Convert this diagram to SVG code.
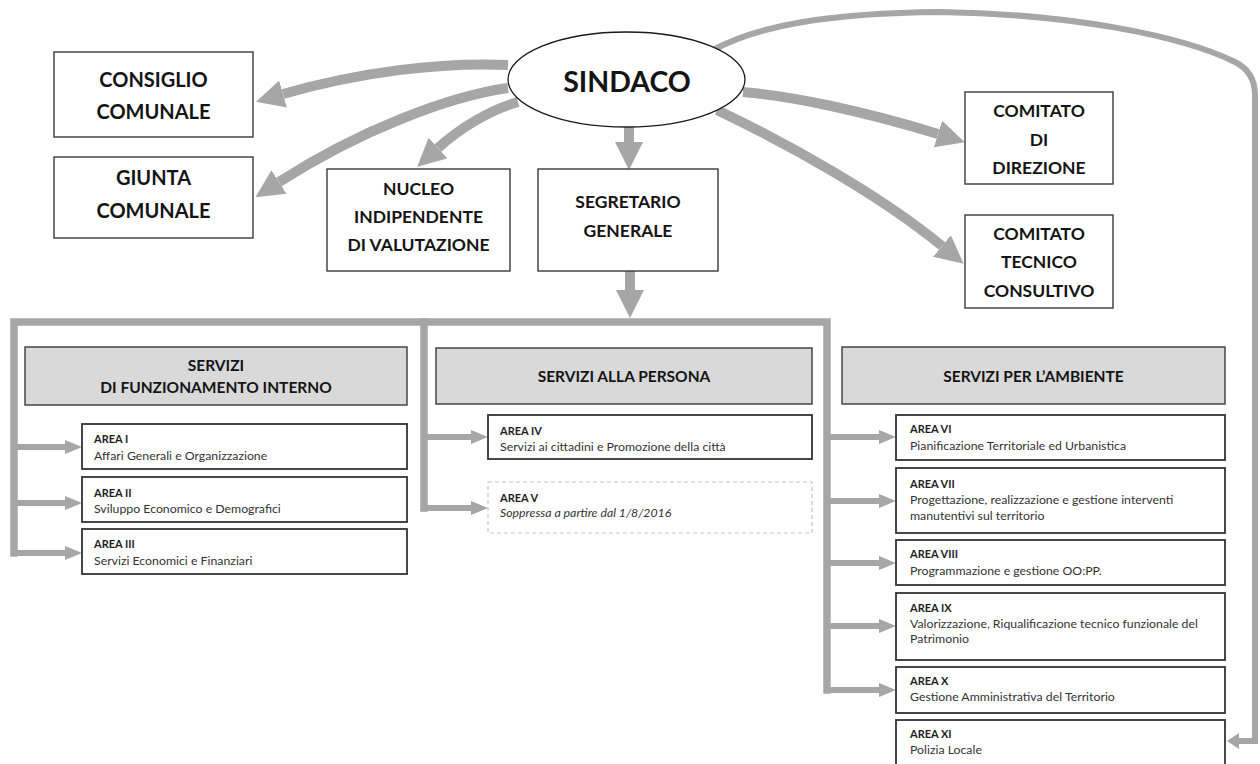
<svg xmlns="http://www.w3.org/2000/svg" width="1260" height="764" viewBox="0 0 1260 764">
<defs>
<style>
.box{fill:#fff;stroke:#3a3a3a;stroke-width:1.4}
.hdr{fill:#d9d9d9;stroke:#3a3a3a;stroke-width:1.4}
.area{fill:#fff;stroke:#333;stroke-width:1.8}
.gone{fill:#fff;stroke:#c4c4c4;stroke-width:1.2;stroke-dasharray:4 3}
.t{font-family:Lato,"Liberation Sans",sans-serif;font-weight:700;fill:#141414;text-anchor:middle}
.tb{font-size:20px}
.tm{font-size:17.5px}
.th{font-size:15.5px}
.at{font-family:Lato,"Liberation Sans",sans-serif;font-weight:700;font-size:11px;fill:#1e1e1e}
.ad{font-family:Lato,"Liberation Sans",sans-serif;font-size:12.3px;fill:#333}
.big{fill:none;stroke:#a6a6a6;stroke-width:10}
.thin{fill:none;stroke:#a6a6a6;stroke-width:6}
.bus{fill:none;stroke:#a6a6a6;stroke-width:7.5;stroke-linecap:square}
</style>
<marker id="ah" viewBox="0 -14 28 28" markerWidth="28" markerHeight="28" refX="0" refY="0" orient="auto" markerUnits="userSpaceOnUse"><path d="M0,-14 L28,0 L0,14 z" fill="#a6a6a6"/></marker>
<marker id="as" viewBox="0 -7 17 14" markerWidth="17" markerHeight="14" refX="0" refY="0" orient="auto" markerUnits="userSpaceOnUse"><path d="M0,-7 L17,0 L0,7 z" fill="#a6a6a6"/></marker>
<marker id="ar" viewBox="0 -8 12 16" markerWidth="12" markerHeight="16" refX="0" refY="0" orient="auto" markerUnits="userSpaceOnUse"><path d="M0,-8 L12,0 L0,8 z" fill="#a6a6a6"/></marker>
</defs>
<rect width="1260" height="764" fill="#fff"/>

<g id="connectors">
<path class="big" d="M508,65 C 440,62 360,72 283,94" marker-end="url(#ah)"/>
<path class="big" d="M508,88 C 450,96 360,130 279,182" marker-end="url(#ah)"/>
<path class="big" d="M518,102 C 490,110 460,128 438,148" marker-end="url(#ah)"/>
<path class="big" d="M629,127 L629,142" marker-end="url(#ah)"/>
<path class="big" d="M743,92 C 790,96 860,110 938,134" marker-end="url(#ah)"/>
<path class="big" d="M717,110 C 790,145 880,195 942,246" marker-end="url(#ah)"/>
<path class="big" d="M630,271 L630,290" marker-end="url(#ah)"/>
<path class="thin" d="M713,50 C 760,25 830,13 940,12 C 1070,14 1180,35 1235,62 Q1255,72 1255,95 L1255,741 L1239,741" marker-end="url(#ar)"/>
<path class="bus" d="M14,553 L14,322 L827,322 L827,690"/>
<path class="bus" d="M424,322 L424,508"/>
<path class="thin" d="M14,447 L65,447" marker-end="url(#as)"/>
<path class="thin" d="M14,503 L65,503" marker-end="url(#as)"/>
<path class="thin" d="M14,553 L65,553" marker-end="url(#as)"/>
<path class="thin" d="M424,437 L471,437" marker-end="url(#as)"/>
<path class="thin" d="M424,508 L471,508" marker-end="url(#as)"/>
<path class="thin" d="M827,437 L879,437" marker-end="url(#as)"/>
<path class="thin" d="M827,501 L879,501" marker-end="url(#as)"/>
<path class="thin" d="M827,563 L879,563" marker-end="url(#as)"/>
<path class="thin" d="M827,626 L879,626" marker-end="url(#as)"/>
<path class="thin" d="M827,690 L879,690" marker-end="url(#as)"/>
</g>

<g id="sindaco">
<ellipse cx="626.5" cy="79.5" rx="118.5" ry="47.5" fill="#fff" stroke="#1a1a1a" stroke-width="1.3"/>
<text class="t" x="627" y="92" font-size="28.5">SINDACO</text>
</g>
<g id="consiglio-comunale">
<rect class="box" x="54" y="52" width="199" height="85"/>
<text class="t tb" x="153.5" y="87">CONSIGLIO</text>
<text class="t tb" x="153.5" y="119">COMUNALE</text>
</g>
<g id="giunta-comunale">
<rect class="box" x="54" y="157" width="199" height="81"/>
<text class="t tb" x="153.5" y="185">GIUNTA</text>
<text class="t tb" x="153.5" y="218">COMUNALE</text>
</g>
<g id="nucleo">
<rect class="box" x="327" y="169" width="183" height="102"/>
<text class="t tm" x="418.5" y="195">NUCLEO</text>
<text class="t tm" x="418.5" y="223">INDIPENDENTE</text>
<text class="t tm" x="418.5" y="251">DI VALUTAZIONE</text>
</g>
<g id="segretario">
<rect class="box" x="538" y="169" width="180" height="102"/>
<text class="t tm" x="628" y="208">SEGRETARIO</text>
<text class="t tm" x="628" y="237">GENERALE</text>
</g>
<g id="comitato-direzione">
<rect class="box" x="965" y="92" width="148" height="92"/>
<text class="t tm" x="1039" y="117">COMITATO</text>
<text class="t tm" x="1039" y="146">DI</text>
<text class="t tm" x="1039" y="174">DIREZIONE</text>
</g>
<g id="comitato-tecnico">
<rect class="box" x="965" y="215" width="148" height="93"/>
<text class="t tm" x="1039" y="240">COMITATO</text>
<text class="t tm" x="1039" y="268">TECNICO</text>
<text class="t tm" x="1039" y="297">CONSULTIVO</text>
</g>

<g id="servizi-funzionamento">
<rect class="hdr" x="25" y="347" width="382" height="58"/>
<text class="t th" x="216" y="371">SERVIZI</text>
<text class="t th" x="216" y="393">DI FUNZIONAMENTO INTERNO</text>
</g>
<g id="servizi-persona">
<rect class="hdr" x="436" y="348" width="376" height="56"/>
<text class="t th" x="624" y="382">SERVIZI ALLA PERSONA</text>
</g>
<g id="servizi-ambiente">
<rect class="hdr" x="842" y="347" width="383" height="57"/>
<text class="t th" x="1033.5" y="382">SERVIZI PER L’AMBIENTE</text>
</g>

<g id="area-1">
<rect class="area" x="82" y="424" width="325" height="45"/>
<text class="at" x="94" y="443">AREA I</text>
<text class="ad" x="94" y="460">Affari Generali e Organizzazione</text>
</g>
<g id="area-2">
<rect class="area" x="82" y="477" width="325" height="45"/>
<text class="at" x="94" y="497">AREA II</text>
<text class="ad" x="94" y="513">Sviluppo Economico e Demografici</text>
</g>
<g id="area-3">
<rect class="area" x="82" y="529" width="325" height="45"/>
<text class="at" x="94" y="548">AREA III</text>
<text class="ad" x="94" y="565">Servizi Economici e Finanziari</text>
</g>
<g id="area-4">
<rect class="area" x="488" y="415" width="324" height="44"/>
<text class="at" x="500" y="435">AREA IV</text>
<text class="ad" x="500" y="451">Servizi ai cittadini e Promozione della città</text>
</g>
<g id="area-5">
<rect class="gone" x="488" y="482" width="324" height="51"/>
<text class="at" x="500" y="502">AREA V</text>
<text class="ad" x="500" y="517" font-style="italic">Soppressa a partire dal 1/8/2016</text>
</g>
<g id="area-6">
<rect class="area" x="896" y="415" width="329" height="45"/>
<text class="at" x="910" y="433">AREA VI</text>
<text class="ad" x="910" y="450">Pianificazione Territoriale ed Urbanistica</text>
</g>
<g id="area-7">
<rect class="area" x="896" y="468" width="329" height="65"/>
<text class="at" x="910" y="488">AREA VII</text>
<text class="ad" x="910" y="504">Progettazione, realizzazione e gestione interventi</text>
<text class="ad" x="910" y="520">manutentivi sul territorio</text>
</g>
<g id="area-8">
<rect class="area" x="896" y="540" width="329" height="45"/>
<text class="at" x="910" y="558">AREA VIII</text>
<text class="ad" x="910" y="575">Programmazione e gestione OO:PP.</text>
</g>
<g id="area-9">
<rect class="area" x="896" y="593" width="329" height="67"/>
<text class="at" x="910" y="612">AREA IX</text>
<text class="ad" x="910" y="628">Valorizzazione, Riqualificazione tecnico funzionale del</text>
<text class="ad" x="910" y="643">Patrimonio</text>
</g>
<g id="area-10">
<rect class="area" x="896" y="667" width="329" height="46"/>
<text class="at" x="910" y="685">AREA X</text>
<text class="ad" x="910" y="701">Gestione Amministrativa del Territorio</text>
</g>
<g id="area-11">
<rect class="area" x="896" y="720" width="329" height="60"/>
<text class="at" x="910" y="738">AREA XI</text>
<text class="ad" x="910" y="754">Polizia Locale</text>
</g>
</svg>
